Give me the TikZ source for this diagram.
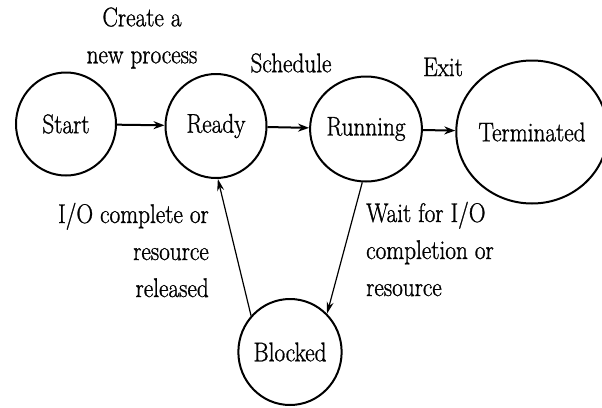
\documentclass[tikz,border=0pt]{standalone}
\usepackage{fontspec}
\setmainfont{Latin Modern Roman}[FakeStretch=0.86, FakeBold=1]
\usetikzlibrary{arrows.meta,shapes.geometric}
\begin{document}
\begin{tikzpicture}[x=1pt,y=-1pt,
  state/.style={draw, ellipse, line width=2pt, inner sep=0pt},
  lbl/.style={inner sep=0pt, font=\fontsize{27}{37}\selectfont},
  arr/.style={line width=2pt, -{Stealth[length=11pt,width=8pt]}},
  thin arr/.style={line width=1.2pt, -{Stealth[length=12pt,width=7pt]}}]
\useasboundingbox (0,0) rectangle (602,407);
% process states
\node[state, minimum width=100pt, minimum height=103pt, lbl] (start) at (66,124) {Start};
\node[state, minimum width=101pt, minimum height=104pt, lbl] (ready) at (216,126) {Ready};
\node[state, minimum width=99pt, minimum height=105pt, lbl] (running) at (366,129) {Running};
\node[state, minimum width=131pt, minimum height=143pt, lbl] (term) at (532,132) {Terminated};
\node[state, minimum width=101pt, minimum height=106pt, lbl] (blocked) at (290,352) {Blocked};
% transitions
\draw[arr] (start) -- (ready);
\draw[arr] (ready) -- (running);
\draw[arr] (running) -- (term);
\draw[thin arr] (blocked.137) -- (ready.272);
\draw[thin arr] (running.266) -- (blocked.46);
% transition labels
\node[lbl, align=center] (lcreate) at (142,38) {Create a\\new process};
\node[lbl] (lsched) at (291,63) {Schedule};
\node[lbl] (lexit) at (443,67) {Exit};
\node[lbl, align=right, anchor=east] (lio) at (209,250) {I/O complete or\\resource\\released};
\node[lbl, align=left, anchor=west] (lwait) at (366,249) {Wait for I/O\\completion or\\resource};
\end{tikzpicture}
\end{document}
